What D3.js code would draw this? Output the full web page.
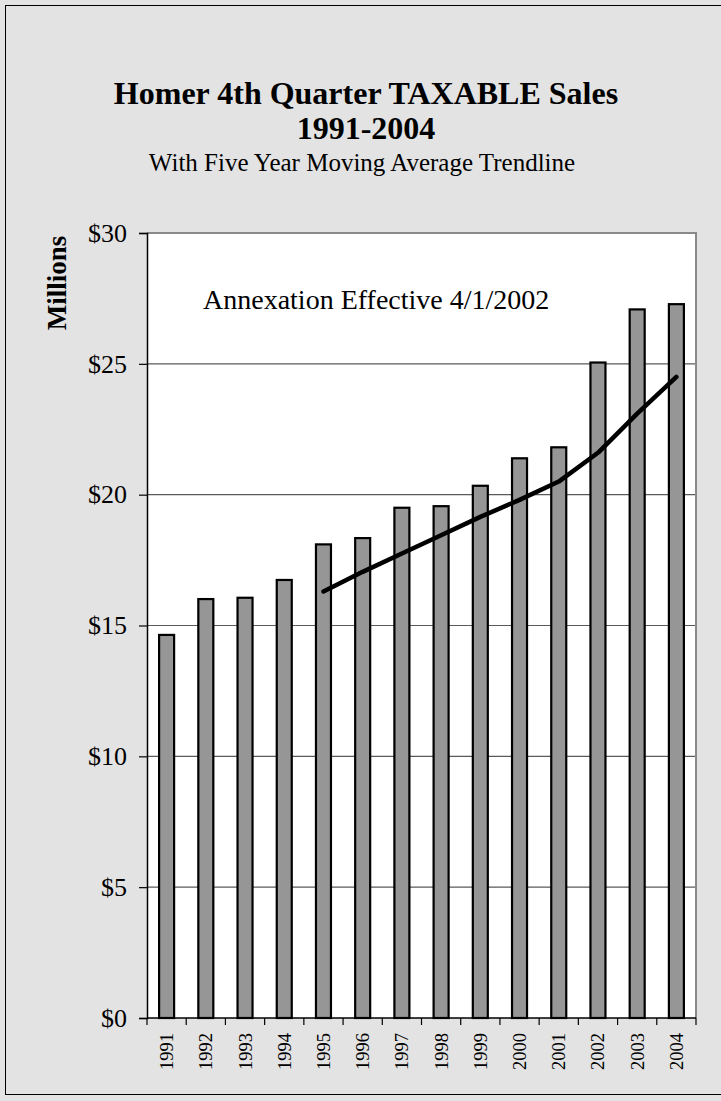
<!DOCTYPE html>
<html>
<head>
<meta charset="utf-8">
<script src="https://cdn.jsdelivr.net/npm/d3@7"></script>
<style>
  html, body { margin: 0; padding: 0; background: #e3e3e3; }
  svg { display: block; }
  text { font-family: "Liberation Serif", "Times New Roman", serif; fill: #000; }
</style>
</head>
<body>
<svg id="chart" width="721" height="1101"></svg>
<script>
// ---- data ----
const years = ["1991","1992","1993","1994","1995","1996","1997","1998","1999","2000","2001","2002","2003","2004"];
const sales = [14.64, 16.01, 16.06, 16.74, 18.10, 18.34, 19.50, 19.56, 20.34, 21.39, 21.81, 25.05, 27.08, 27.28];
const trendYears = ["1995","1996","1997","1998","1999","2000","2001","2002","2003","2004"];
const trendValues = [16.3, 17.05, 17.75, 18.45, 19.15, 19.8, 20.5, 21.6, 23.1, 24.5];
const yTicks = [0, 5, 10, 15, 20, 25, 30];
const titleLines = ["Homer 4th Quarter TAXABLE Sales", "1991-2004"];
const subtitle = "With Five Year Moving Average Trendline";
const annotation = "Annexation Effective 4/1/2002";
const yAxisTitle = "Millions";

// ---- layout ----
const svg = d3.select("#chart");
const plot = { left: 147, right: 696, top: 233, bottom: 1018 };

// outer frame
svg.append("rect").attr("x", 5.5).attr("y", 5.5).attr("width", 730).attr("height", 1089)
  .attr("fill", "#e3e3e3").attr("stroke", "#000").attr("stroke-width", 1);

const x = d3.scaleBand().domain(years).range([plot.left, plot.right]).paddingInner(0).paddingOuter(0);
const y = d3.scaleLinear().domain([0, 30]).range([plot.bottom, plot.top]);

// plot area
svg.append("rect").attr("x", plot.left).attr("y", plot.top)
  .attr("width", plot.right - plot.left).attr("height", plot.bottom - plot.top)
  .attr("fill", "#fff");

// gridlines
svg.append("g").selectAll("line").data(yTicks.filter(d => d > 0 && d < 30)).join("line")
  .attr("x1", plot.left).attr("x2", plot.right)
  .attr("y1", d => y(d)).attr("y2", d => y(d))
  .attr("stroke", "#5a5a5a").attr("stroke-width", 1.2);

// plot border top/right
svg.append("path")
  .attr("d", `M${plot.left},${plot.top}H${plot.right}V${plot.bottom}`)
  .attr("fill", "none").attr("stroke", "#8a8a8a").attr("stroke-width", 2);

// bars
const barW = 15;
svg.append("g").selectAll("rect").data(sales).join("rect")
  .attr("x", (d, i) => x(years[i]) + x.bandwidth() / 2 - barW / 2)
  .attr("y", d => y(d))
  .attr("width", barW)
  .attr("height", d => y(0) - y(d))
  .attr("fill", "#969696").attr("stroke", "#000").attr("stroke-width", 2.2);

// trendline
const line = d3.line()
  .x((d, i) => x(trendYears[i]) + x.bandwidth() / 2)
  .y(d => y(d));
svg.append("path").datum(trendValues)
  .attr("d", line)
  .attr("fill", "none").attr("stroke", "#000").attr("stroke-width", 4.5)
  .attr("stroke-linejoin", "round").attr("stroke-linecap", "round");

// y axis
const yAxis = d3.axisLeft(y).tickValues(yTicks).tickSize(8).tickPadding(12)
  .tickFormat(d => "$" + d);
const gy = svg.append("g").attr("transform", `translate(${plot.left},0)`).call(yAxis);
gy.select(".domain").attr("stroke", "#000").attr("stroke-width", 1.5);
gy.selectAll(".tick line").attr("stroke", "#000").attr("stroke-width", 1.2);
gy.selectAll(".tick text").attr("font-family", "Liberation Serif, serif").attr("font-size", 26).attr("fill", "#000");

// x axis: ticks at band boundaries
const gx = svg.append("g").attr("transform", `translate(0,${plot.bottom})`);
gx.append("line").attr("x1", plot.left).attr("x2", plot.right).attr("y1", 0).attr("y2", 0)
  .attr("stroke", "#000").attr("stroke-width", 1.5);
const boundaries = years.map(d => x(d)).concat([plot.right]);
gx.selectAll("line.tk").data(boundaries).join("line").attr("class", "tk")
  .attr("x1", d => d).attr("x2", d => d).attr("y1", 0).attr("y2", 7)
  .attr("stroke", "#000").attr("stroke-width", 1.2);
gx.selectAll("text").data(years).join("text")
  .attr("transform", d => `translate(${x(d) + x.bandwidth() / 2 + 6.5},${15}) rotate(-90)`)
  .attr("text-anchor", "end")
  .attr("font-size", 18.5)
  .text(d => d);

// y axis title
svg.append("text")
  .attr("transform", `translate(66,${283}) rotate(-90)`)
  .attr("text-anchor", "middle").attr("font-weight", "bold").attr("font-size", 27)
  .text(yAxisTitle);

// annotation
svg.append("text").attr("x", 203).attr("y", 309).attr("font-size", 28).text(annotation);

// titles
svg.append("text").attr("x", 366).attr("y", 104).attr("text-anchor", "middle")
  .attr("font-weight", "bold").attr("font-size", 32).text(titleLines[0]);
svg.append("text").attr("x", 366).attr("y", 139).attr("text-anchor", "middle")
  .attr("font-weight", "bold").attr("font-size", 32).text(titleLines[1]);
svg.append("text").attr("x", 362).attr("y", 171).attr("text-anchor", "middle")
  .attr("font-size", 25).text(subtitle);
</script>
</body>
</html>
